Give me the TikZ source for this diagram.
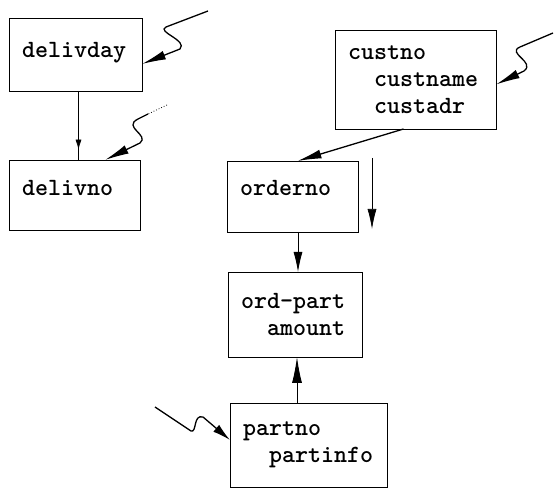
\documentclass[tikz,border=0pt]{standalone}
\usepackage{fontspec}
\usetikzlibrary{arrows.meta,decorations.markings}
\tikzset{
  box/.style={draw, line width=0.9pt, rectangle, anchor=north west, inner xsep=13pt,
    inner ysep=0pt, align=left, outer sep=0pt,
    font=\ttfamily\bfseries\fontsize{24.8}{27}\selectfont},
  oneline/.style={text height=15pt, text depth=#1},
  arr/.style={-{Latex[length=20pt,width=9pt]}, line width=0.9pt},
  wig/.style={-{Latex[length=24pt,width=9pt]}, line width=1.3pt},
  midarrow/.style={postaction={decorate}, decoration={markings,
    mark=at position 0.85 with {\arrow{Latex[length=10pt,width=6pt]}}}}
}
\begin{document}
\begin{tikzpicture}[x=1pt,y=-1pt]
\useasboundingbox (0,0) rectangle (555,489);
% boxes
\node[box, oneline=9pt, text width=107pt, minimum height=73pt] (delivday) at (9,18) {delivday};
\node[box, oneline=14pt, text width=105pt, minimum height=70pt] (delivno) at (9,160) {delivno};
\node[box, text width=135pt, minimum height=99pt] (custno) at (335,30)
  {custno\\\hspace*{26pt}custname\\\hspace*{26pt}custadr};
\node[box, oneline=17pt, text width=105pt, minimum height=71pt] (orderno) at (227,161) {orderno};
\node[box, text width=108pt, minimum height=85pt] (ordpart) at (228,272)
  {ord-part\\\hspace*{26pt}amount};
\node[box, text width=131pt, minimum height=84pt] (partno) at (230,403)
  {partno\\\hspace*{26pt}partinfo};
% connectors
\draw[line width=0.7pt, midarrow] ([xshift=3pt]delivday.south) -- ([xshift=3pt]delivday.south |- delivno.north);
\draw[arr] ([xshift=5.5pt]orderno.south) -- ([xshift=5.5pt]orderno.south |- ordpart.north);
\draw[arr, -{Latex[length=26pt,width=10pt]}] ([xshift=-11.5pt]partno.north) -- ([xshift=-11.5pt]partno.north |- ordpart.south);
\draw[wig] ([xshift=-12pt]custno.south) -- ([xshift=5pt]orderno.north);
\coordinate (s1) at (372,158);
\coordinate (s2) at (372,229);
\draw[arr, line width=0.7pt] (s1) -- (s2);
% wavy inputs
\coordinate (w1) at (208,11);
\draw[wig] (w1) -- (166,27) .. controls (156,32) and (188,40) .. (180,49) -- ([yshift=-9.5pt]delivday.east);
\coordinate (w2) at (167,105);
\coordinate (w2b) at (148,114);
\draw[line width=0.8pt, dotted] (w2) -- (w2b);
\draw[wig] (w2b) -- (138,119) .. controls (122,127) and (150,135) .. (140,143) -- ([xshift=30.5pt]delivno.north);
\coordinate (w3) at (553,33);
\draw[wig] (w3) -- (520,47) .. controls (506,53) and (536,62) .. (524,71) -- ([yshift=-5pt]custno.east);
\coordinate (w4) at (155,407);
\draw[wig, -{Latex[length=18pt,width=9pt]}] (w4) -- (191,431) .. controls (197,433) and (193,414) .. (203,417) -- ([yshift=5pt]partno.west);
\end{tikzpicture}
\end{document}
